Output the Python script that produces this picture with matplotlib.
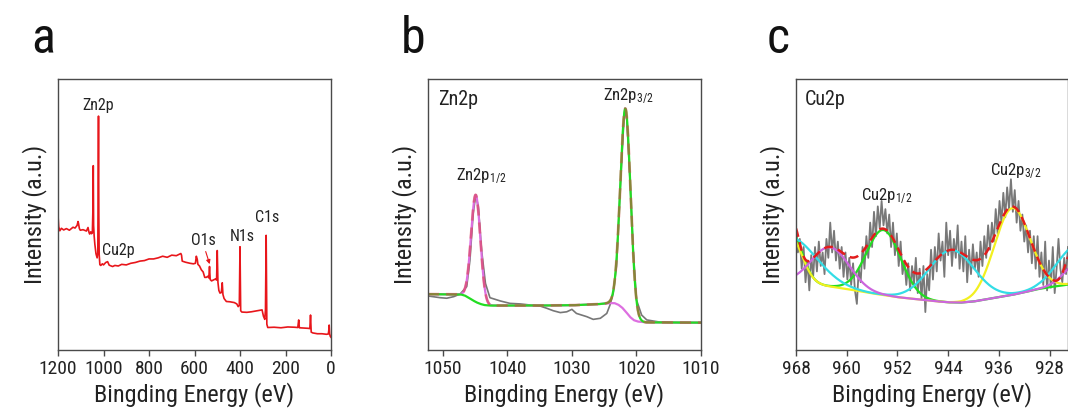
import numpy as np
import matplotlib
matplotlib.use("Agg")
import matplotlib.pyplot as plt
from matplotlib import font_manager

# ---------------------------------------------------------------- fonts
# prefer a narrow sans face for all labels
entries = font_manager.fontManager.ttflist
by_name = {f.name for f in entries}
FONT, STRETCH = None, "normal"
for name in ("Roboto Condensed", "Liberation Sans Narrow", "Open Sans Condensed",
             "Noto Sans Condensed", "DejaVu Sans Condensed"):
    if name in by_name:
        FONT = name
        break
if FONT is None:
    for name in ("Roboto", "Noto Sans", "Open Sans", "DejaVu Sans", "Liberation Sans"):
        narrow = [f for f in entries if f.name == name and f.style == "normal"
                  and str(f.stretch) in ("condensed", "semi-condensed", "extra-condensed")]
        if narrow:
            FONT, STRETCH = name, str(narrow[0].stretch)
            break
if FONT is None:
    FONT = "Roboto"

plt.rcParams["font.family"] = [FONT, "DejaVu Sans"]
plt.rcParams["font.stretch"] = STRETCH
plt.rcParams["mathtext.fontset"] = "custom"
pattern = FONT if STRETCH == "normal" else f"{FONT}:stretch={STRETCH}"
plt.rcParams["mathtext.rm"] = pattern
plt.rcParams["mathtext.it"] = pattern
plt.rcParams["mathtext.bf"] = pattern

TXT = "#222222"

# ---------------------------------------------------------------- (a) survey spectrum
survey_E = [1200, 1197, 1192, 1185, 1175, 1163, 1150, 1134, 1125, 1116, 1112, 1110,
            1106, 1102, 1090, 1075, 1068, 1064, 1061, 1056, 1053, 1049, 1046.5, 1045,
            1043.5, 1041, 1038, 1033, 1028, 1025, 1023.5, 1022, 1020.5, 1019, 1016,
            1012, 1005, 1000, 990, 982, 975, 960, 950, 935, 920, 900, 880, 860, 840,
            820, 800, 780, 760, 740, 720, 700, 680, 665, 660, 657, 654, 640, 620, 605,
            596, 592, 588, 585, 578, 570, 562, 555, 548, 542, 537, 534, 531, 525, 515,
            508, 503, 500, 497, 493, 488, 482, 478, 475, 470, 460, 445, 425, 414, 408,
            403, 400, 397, 392, 370, 350, 330, 310, 303, 297, 291, 288, 285, 282, 278,
            250, 220, 190, 160, 146, 142, 139, 120, 100, 93, 90, 87, 80, 60, 40, 20,
            12, 10, 8, 6, 3, 0]
survey_I = [49.8, 45.5, 44.0, 44.9, 44.3, 44.8, 44.2, 45.3, 45.0, 46.0, 47.4, 46.8,
            44.8, 44.2, 44.4, 43.9, 45.2, 43.5, 42.8, 43.6, 42.9, 43.2, 52.0, 68.0,
            46.0, 42.0, 39.0, 35.5, 34.0, 36.0, 60.0, 86.3, 50.0, 35.2, 31.5,
            31.2, 31.8, 31.4, 32.3, 32.6, 31.3, 30.8, 31.2, 31.0, 31.6, 31.4, 32.0,
            32.3, 32.8, 33.0, 33.6, 33.6, 34.0, 34.6, 34.2, 35.0, 34.8, 35.4, 35.6,
            35.0, 32.8, 32.4, 32.0, 31.8, 32.0, 34.6, 33.5, 31.6, 31.0, 29.6, 28.8,
            26.8, 26.8, 27.2, 26.6, 30.8, 26.0, 25.5, 25.9, 26.2, 25.8, 36.7, 25.0,
            22.0, 21.0, 21.2, 24.8, 20.5, 19.0, 17.9, 17.8, 17.5, 17.0, 16.0, 16.5,
            38.1, 14.5, 14.0, 13.9, 14.1, 14.4, 14.7, 14.8, 12.5, 11.3, 15.0, 42.3,
            9.5, 8.3, 8.4, 8.2, 8.5, 8.4, 8.3, 11.1, 8.2, 8.1, 8.0, 7.9, 12.9, 6.6,
            6.3, 6.0, 6.0, 5.8, 5.9, 7.0, 9.2, 6.0, 5.0, 4.7]
survey_labels = ["Zn2p", "Cu2p", "O1s", "N1s", "C1s"]
survey_label_E = [1025, 937, 563, 392, 282]
survey_label_I = [88.6, 35.0, 38.7, 40.2, 47.2]

# ---------------------------------------------------------------- (b) Zn 2p region
zn_raw_E = [1052.2, 1050.4, 1049.4, 1048.3, 1047.3, 1046.3, 1045.8, 1045.3, 1044.9,
            1044.5, 1044.0, 1043.4, 1042.7, 1041.1, 1039.6, 1038.0, 1036.5, 1034.9,
            1033.9, 1032.9, 1031.8, 1030.8, 1030.0, 1029.3, 1027.7, 1026.7, 1025.6,
            1024.6, 1024.1, 1023.6, 1023.1, 1022.6, 1022.0, 1021.8, 1021.5, 1021.0,
            1020.5, 1020.0, 1019.2, 1018.4, 1016.4, 1013.3, 1010.0]
zn_raw_I = [19.9, 19.3, 19.1, 19.7, 20.7, 23.4, 33.2, 50.4, 57.2,
            52.9, 36.9, 24.6, 19.3, 18.1, 17.2, 17.0, 16.6, 16.2,
            15.4, 14.5, 13.8, 14.1, 15.0, 13.5, 12.3, 11.3, 11.7,
            13.5, 16.6, 20.9, 30.8, 55.4, 82.4, 89.2, 84.9, 62.7,
            36.9, 18.5, 12.9, 11.1, 10.3, 10.1, 10.1]
zn_bg_E = [1052.3, 1047.2, 1046.6, 1046.0, 1045.4, 1044.8, 1044.2, 1043.6, 1042.8,
           1036.0, 1030.0, 1026.0, 1024.2, 1023.4, 1022.8, 1022.2, 1021.6, 1021.0,
           1020.4, 1019.8, 1018.5, 1010.0]
zn_bg_I = [20.6, 20.5, 20.1, 19.3, 18.4, 17.6, 17.0, 16.6, 16.4,
           16.4, 16.5, 16.9, 17.3, 17.3, 16.7, 15.6, 14.0, 12.2,
           11.0, 10.5, 10.2, 10.1]
# fitted peaks: centre (eV), height above background, gaussian sigma (eV)
zn_p12 = (1044.9, 39.5, 0.72)
zn_p32 = (1021.7, 74.8, 0.80)

# ---------------------------------------------------------------- (c) Cu 2p region
cu_raw = [45, 36, 41, 30, 38, 25, 33, 22, 35, 27, 38, 29, 40, 31, 36, 28, 41, 34,
          47, 36, 44, 33, 40, 30, 38, 27, 36, 26, 34, 24, 32, 22, 17, 30, 25, 38,
          30, 42, 34, 47, 38, 51, 42, 53, 45, 55, 46, 52, 43, 50, 38, 47, 35, 43,
          31, 40, 28, 33, 24, 32, 22, 31, 24, 34, 21, 30, 19, 31, 14, 28, 22, 37,
          26, 38, 29, 43, 33, 40, 27, 47, 35, 44, 31, 41, 34, 46, 30, 40, 29, 42,
          25, 37, 28, 39, 30, 36, 27, 40, 31, 42, 34, 46, 37, 47, 40, 52, 43, 55,
          47, 58, 49, 60, 52, 63, 51, 59, 47, 55, 44, 50, 40, 46, 36, 44, 32, 42,
          30, 42, 27, 36, 24, 40, 22, 33, 23, 38, 21, 30, 41, 30, 25, 34, 28, 38]
cu_raw_start, cu_raw_step = 968.0, 0.3
cu_bg_E = [968, 966, 964, 962, 960, 958, 956, 954, 952, 950, 948, 946, 944, 942,
           940, 938, 936, 934, 932, 930, 928, 926, 925]
cu_bg_I = [24.8, 24.3, 23.8, 23.2, 22.5, 21.7, 20.9, 20.2, 19.5, 19.0, 18.5, 18.0,
           17.6, 17.5, 17.9, 18.7, 19.5, 20.3, 21.3, 22.4, 23.2, 23.8, 24.2]
# each component: list of (centre, height, sigma)
cu_green = [(954.2, 24.0, 2.7), (969.0, 19.7, 1.85)]
cu_yellow = [(933.9, 32.0, 2.8), (969.0, 17.4, 1.9)]
cu_cyan = [(943.4, 19.3, 3.6), (969.0, 16.7, 4.15), (924.0, 13.6, 2.9)]
cu_purple = [(962.6, 14.5, 3.0), (923.5, 7.5, 2.2)]
cu_env_edges = [(968.5, 19.5, 1.0), (924.5, 12.0, 1.0)]


def gauss(x, centre, height, sigma):
    return height * np.exp(-(x - centre) ** 2 / (2.0 * sigma ** 2))


def peak_sum(x, peaks):
    total = np.zeros_like(x)
    for c, h, s in peaks:
        total += gauss(x, c, h, s)
    return total


# ---------------------------------------------------------------- figure
W, H = 1068, 416
fig = plt.figure(figsize=(W / 100, H / 100), dpi=100)


def make_axes(left_px, right_px):
    ax = fig.add_axes([left_px / W, 1 - 350 / H, (right_px - left_px) / W, 271 / H])
    ax.set_ylim(0, 100)
    ax.set_yticks([])
    for sp in ax.spines.values():
        sp.set_color("#4a4a4a")
        sp.set_linewidth(1.0)
    ax.tick_params(axis="x", direction="out", length=4, width=1, colors="#4a4a4a",
                   labelcolor=TXT, labelsize=14, pad=3)
    ax.set_xlabel("Bingding Energy (eV)", fontsize=17.5, color=TXT, labelpad=3)
    ax.set_ylabel("Intensity (a.u.)", fontsize=17.5, color=TXT, labelpad=8)
    return ax


ax_a = make_axes(58, 331)
ax_b = make_axes(428, 701)
ax_c = make_axes(796, 1068)

for letter, x_px in (("a", 31), ("b", 401), ("c", 767)):
    fig.text(x_px / W, 1 - 53 / H, letter, fontsize=36, color="#111111",
             ha="left", va="baseline")

# (a)
ax_a.plot(survey_E, survey_I, color="#e8161b", lw=1.2)
ax_a.set_xlim(1200, 0)
ax_a.set_xticks([1200, 1000, 800, 600, 400, 200, 0])
for lab, e, i in zip(survey_labels, survey_label_E, survey_label_I):
    ax_a.text(e, i, lab, fontsize=11.5, color=TXT, ha="center", va="baseline")
ax_a.annotate("", xy=(529.5, 30.7), xytext=(554.5, 37.3),
              arrowprops=dict(arrowstyle="-|>", color="#e8161b", lw=0.8,
                              mutation_scale=6))

# (b)
eb = np.linspace(1052.3, 1010.0, 1200)
zn_bg = np.interp(eb, zn_bg_E[::-1], zn_bg_I[::-1])
comp12 = zn_bg + gauss(eb, *zn_p12)
comp32 = zn_bg + gauss(eb, *zn_p32)
zn_env = zn_bg + gauss(eb, *zn_p12) + gauss(eb, *zn_p32)
ax_b.plot(zn_raw_E, zn_raw_I, color="#777777", lw=1.2)
ax_b.plot(eb, comp12, color="#dd6fe0", lw=1.6)
ax_b.plot(eb, comp32, color="#22dd22", lw=1.6)
ax_b.plot(eb, zn_env, color="#d9404a", lw=2.0, alpha=0.55, dashes=(4, 2.5))
ax_b.set_xlim(1052.3, 1010)
ax_b.set_xticks([1050, 1040, 1030, 1020, 1010])
ax_b.text(0.037, 0.904, "Zn2p", transform=ax_b.transAxes, fontsize=14.5,
          color=TXT, ha="left", va="baseline")
ax_b.text(1044.1, 62.7, r"Zn2p$_{\mathrm{1/2}}$", fontsize=12, color=TXT,
          ha="center", va="baseline")
ax_b.text(1021.3, 92.3, r"Zn2p$_{\mathrm{3/2}}$", fontsize=12, color=TXT,
          ha="center", va="baseline")

# (c)
ec = np.linspace(968.0, 925.1, 1200)
cu_bg = np.interp(ec, cu_bg_E[::-1], cu_bg_I[::-1])
cu_E = cu_raw_start - cu_raw_step * np.arange(len(cu_raw))
ax_c.plot(cu_E, cu_raw, color="#787878", lw=1.3)
for peaks, col in ((cu_green, "#22dd22"), (cu_yellow, "#f2f020"),
                   (cu_cyan, "#33dde6"), (cu_purple, "#cc66dd")):
    ax_c.plot(ec, cu_bg + peak_sum(ec, peaks), color=col, lw=1.6)
main_peaks = [cu_green[0], cu_yellow[0], cu_cyan[0], cu_purple[0]]
cu_env = cu_bg + peak_sum(ec, main_peaks) + peak_sum(ec, cu_env_edges)
ax_c.plot(ec, cu_env, color="#e21c1c", lw=1.8, dashes=(3.5, 2.2))
ax_c.set_xlim(968, 925.1)
ax_c.set_xticks([968, 960, 952, 944, 936, 928])
ax_c.text(0.033, 0.904, "Cu2p", transform=ax_c.transAxes, fontsize=14.5,
          color=TXT, ha="left", va="baseline")
ax_c.text(953.7, 55.4, r"Cu2p$_{\mathrm{1/2}}$", fontsize=12, color=TXT,
          ha="center", va="baseline")
ax_c.text(933.4, 64.6, r"Cu2p$_{\mathrm{3/2}}$", fontsize=12, color=TXT,
          ha="center", va="baseline")

fig.savefig("out.png", dpi=100)
